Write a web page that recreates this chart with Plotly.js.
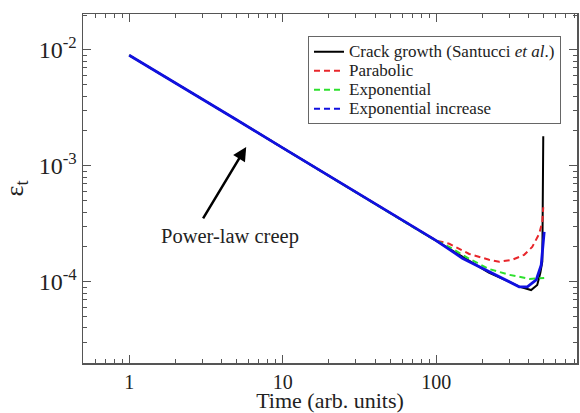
<!DOCTYPE html>
<html>
<head>
<meta charset="utf-8">
<script src="https://cdn.plot.ly/plotly-3.0.1.min.js"></script>
<style>html,body{margin:0;padding:0;background:#fff;}#chart{width:580px;height:413px;}</style>
</head>
<body>
<div id="chart"></div>
<script>
// Crack growth (Santucci et al.)
var timeCrack   = [1, 2, 5, 10, 20, 50, 100, 150, 220, 300, 347, 415, 455, 477, 491, 498];
var strainCrack = [9.0e-3, 5.2e-3, 2.5e-3, 1.43e-3, 8.2e-4, 3.95e-4, 2.27e-4, 1.64e-4, 1.2e-4, 1.0e-4, 9.1e-5, 8.5e-5, 9.4e-5, 1.2e-4, 1.5e-4, 1.8e-3];
// Parabolic
var timePara    = [1, 2, 5, 10, 20, 50, 100, 121.5, 164, 221, 257, 313, 374, 422, 469, 491, 498];
var strainPara  = [9.0e-3, 5.2e-3, 2.5e-3, 1.43e-3, 8.2e-4, 3.95e-4, 2.27e-4, 2.13e-4, 1.74e-4, 1.55e-4, 1.49e-4, 1.55e-4, 1.71e-4, 2.0e-4, 2.6e-4, 3.3e-4, 4.4e-4];
// Exponential
var timeExp     = [1, 2, 5, 10, 20, 50, 90, 121.5, 164, 221, 299, 405, 505];
var strainExp   = [9.0e-3, 5.2e-3, 2.5e-3, 1.43e-3, 8.2e-4, 3.95e-4, 2.44e-4, 2.0e-4, 1.58e-4, 1.29e-4, 1.15e-4, 1.06e-4, 1.08e-4];
// Exponential increase
var timeInc     = [1, 2, 5, 10, 20, 50, 100, 148, 221, 299, 347, 392, 448, 483, 505];
var strainInc   = [9.0e-3, 5.2e-3, 2.5e-3, 1.43e-3, 8.2e-4, 3.95e-4, 2.27e-4, 1.6e-4, 1.22e-4, 1.0e-4, 9.06e-5, 9.06e-5, 1.04e-4, 1.4e-4, 2.7e-4];

var xTickVals = [1, 10, 100];
var xTickText = ['1', '10', '100'];
var yTickVals = [1e-4, 1e-3, 1e-2];
var yTickText = ['10<sup>-4</sup>', '10<sup>-3</sup>', '10<sup>-2</sup>'];
var seriesNames = ['Crack growth (Santucci <i>et al</i>.)', 'Parabolic', 'Exponential', 'Exponential increase'];

var serif = "'Liberation Serif', 'Times New Roman', serif";
var axisCol = '#555';

function legendLabel(s) { return '<span style="font-size:17px">' + s + '</span>'; }

var traces = [
  {x: timeCrack, y: strainCrack, name: legendLabel(seriesNames[0]), mode: 'lines', line: {color: '#000', width: 2}},
  {x: timePara, y: strainPara, name: legendLabel(seriesNames[1]), mode: 'lines', line: {color: '#e8262b', width: 2, dash: '6px,4px'}},
  {x: timeExp, y: strainExp, name: legendLabel(seriesNames[2]), mode: 'lines', line: {color: '#2ee02e', width: 2, dash: '6px,4px'}},
  {x: timeInc, y: strainInc, name: legendLabel(seriesNames[3]), mode: 'lines', showlegend: false, line: {color: '#1010e0', width: 2.8}},
  {x: [null], y: [null], name: legendLabel(seriesNames[3]), mode: 'lines', line: {color: '#1010e0', width: 2, dash: '6px,4px'}}
];

var layout = {
  width: 580, height: 413,
  margin: {l: 83, r: 3, t: 14, b: 50},
  paper_bgcolor: '#fff', plot_bgcolor: '#fff',
  font: {family: serif, color: '#222', size: 15},
  showlegend: true,
  legend: {
    x: 0.9676, xanchor: 'right', y: 0.936, yanchor: 'top',
    bordercolor: '#666', borderwidth: 1, bgcolor: '#fff',
    font: {family: serif, size: 12.3, color: '#222'},
    tracegroupgap: 0, itemwidth: 30
  },
  xaxis: {
    type: 'log', range: [Math.log10(0.5), 2.917],
    tickvals: xTickVals, ticktext: xTickText,
    ticks: 'inside', ticklen: 8, tickwidth: 1, tickcolor: axisCol,
    minor: {ticks: 'inside', ticklen: 4, tickcolor: axisCol, dtick: 'D1', showgrid: false},
    showline: true, linecolor: axisCol, linewidth: 1.5, mirror: 'ticks',
    showgrid: false, zeroline: false,
    tickfont: {family: serif, size: 20, color: '#222'},
    title: {text: 'Time (arb. units)', font: {family: serif, size: 22, color: '#222'}, standoff: 3}
  },
  yaxis: {
    type: 'log', range: [-4.7, -1.69],
    tickvals: yTickVals, ticktext: yTickText,
    ticks: 'inside', ticklen: 8, tickwidth: 1, tickcolor: axisCol,
    minor: {ticks: 'inside', ticklen: 4, tickcolor: axisCol, dtick: 'D1', showgrid: false},
    showline: true, linecolor: axisCol, linewidth: 1.5, mirror: 'ticks',
    showgrid: false, zeroline: false,
    tickfont: {family: serif, size: 24, color: '#222'},
    title: {text: 'ε<sub>t</sub>', font: {family: serif, size: 26, color: '#222'}, standoff: 8}
  },
  annotations: [
    {x: 0.762, y: -2.836, xref: 'x', yref: 'y', text: '', showarrow: true,
     ax: -44, ay: 73, arrowhead: 2, arrowsize: 1.1, arrowwidth: 2.5, arrowcolor: '#000'},
    {x: 0.658, y: -3.612, xref: 'x', yref: 'y', text: 'Power-law creep', showarrow: false,
     font: {family: serif, size: 20.5, color: '#222'}}
  ]
};

Plotly.newPlot('chart', traces, layout, {displayModeBar: false, staticPlot: true});
</script>
</body>
</html>
